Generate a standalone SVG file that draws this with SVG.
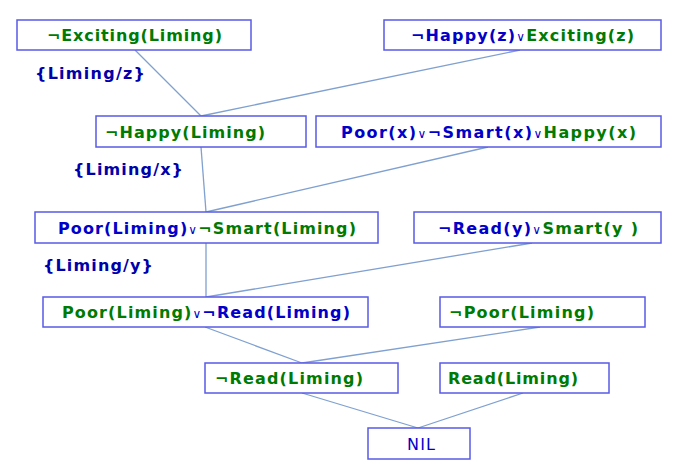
<svg xmlns="http://www.w3.org/2000/svg" width="678" height="470" viewBox="0 0 678 470">
<style>
rect{fill:#fff;stroke:#5a5ae6;stroke-width:1.5}
text{font-family:"DejaVu Sans",Verdana,sans-serif;font-weight:bold;font-size:16px}
.g{fill:#007a00}.b{fill:#0000c8}.l{fill:#0000aa}
.o{font-weight:normal;font-size:12px}
#edges line{stroke:#7fa0d0;stroke-width:1.3}
</style>
<rect x="0" y="0" width="678" height="470" style="stroke:none"/>
<g id="edges">
<line x1="135" y1="50" x2="201" y2="116"/><line x1="520" y1="50" x2="201" y2="116"/>
<line x1="201" y1="147" x2="206" y2="212"/><line x1="488" y1="147" x2="206" y2="212"/>
<line x1="206" y1="243" x2="206" y2="297"/><line x1="532" y1="243" x2="206" y2="297"/>
<line x1="205" y1="327" x2="302" y2="363"/><line x1="540" y1="327" x2="302" y2="363"/>
<line x1="302" y1="393" x2="418" y2="428"/><line x1="523" y1="393" x2="418" y2="428"/>
</g>
<g id="n1"><rect x="17" y="20" width="234" height="30"/><text x="47" y="41" textLength="175" class="g">¬Exciting(Liming)</text></g>
<g id="n2"><rect x="384" y="20" width="277" height="30"/><text x="411" y="41" textLength="223"><tspan class="b">¬Happy(z)</tspan><tspan class="b o">∨</tspan><tspan class="g">Exciting(z)</tspan></text></g>
<g id="n3"><rect x="96" y="116" width="210" height="31"/><text x="105" y="138" textLength="160" class="g">¬Happy(Liming)</text></g>
<g id="n4"><rect x="316" y="116" width="345" height="31"/><text x="341" y="138" textLength="295"><tspan class="b">Poor(x)</tspan><tspan class="b o">∨</tspan><tspan class="b">¬Smart(x)</tspan><tspan class="b o">∨</tspan><tspan class="g">Happy(x)</tspan></text></g>
<g id="n5"><rect x="35" y="212" width="343" height="31"/><text x="58" y="234" textLength="298"><tspan class="b">Poor(Liming)</tspan><tspan class="b o">∨</tspan><tspan class="g">¬Smart(Liming)</tspan></text></g>
<g id="n6"><rect x="414" y="212" width="247" height="31"/><text x="438" y="234" textLength="200"><tspan class="b">¬Read(y)</tspan><tspan class="b o">∨</tspan><tspan class="g">Smart(y )</tspan></text></g>
<g id="n7"><rect x="43" y="297" width="325" height="30"/><text x="62" y="318" textLength="288"><tspan class="g">Poor(Liming)</tspan><tspan class="b o">∨</tspan><tspan class="b">¬Read(Liming)</tspan></text></g>
<g id="n8"><rect x="440" y="297" width="205" height="30"/><text x="449" y="318" textLength="145" class="g">¬Poor(Liming)</text></g>
<g id="n9"><rect x="205" y="363" width="193" height="30"/><text x="215" y="384" textLength="148" class="g">¬Read(Liming)</text></g>
<g id="n10"><rect x="440" y="363" width="169" height="30"/><text x="448" y="384" textLength="130" class="g">Read(Liming)</text></g>
<g id="n11"><rect x="368" y="428" width="102" height="31"/><text x="407" y="450" textLength="28" class="b" style="font-weight:normal">NIL</text></g>
<text x="35" y="79" textLength="110" class="l">{Liming/z}</text>
<text x="73" y="175" textLength="110" class="l">{Liming/x}</text>
<text x="43" y="271" textLength="110" class="l">{Liming/y}</text>
</svg>
